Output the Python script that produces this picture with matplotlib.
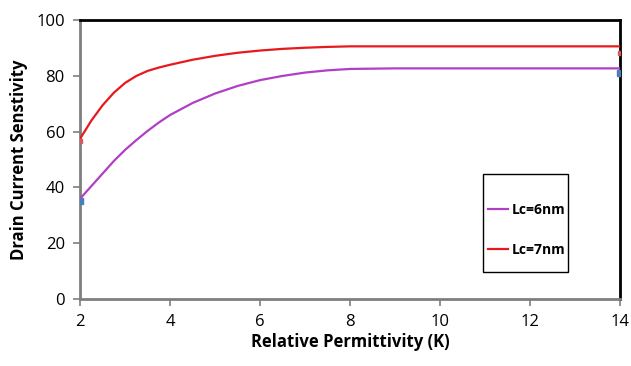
import matplotlib.pyplot as plt
from matplotlib.patches import Rectangle

k = [2, 2.25, 2.5, 2.75, 3, 3.25, 3.5, 3.75, 4, 4.5, 5, 5.5, 6, 6.5, 7, 7.5, 8,
     9, 10, 11, 12, 13, 14]
lc6 = [36, 40.5, 45, 49.5, 53.5, 57, 60.3, 63.3, 66, 70.3, 73.7, 76.4, 78.5, 80,
       81.2, 82, 82.5, 82.7, 82.7, 82.7, 82.7, 82.7, 82.7]
lc7 = [57.5, 64, 69.5, 74, 77.5, 80, 81.8, 83, 84, 85.8, 87.2, 88.3, 89.1, 89.7,
       90.1, 90.4, 90.6, 90.6, 90.6, 90.6, 90.6, 90.6, 90.6]

plt.rcParams['font.family'] = ['Open Sans', 'DejaVu Sans']

fig = plt.figure(figsize=(6.31, 3.66), dpi=100)
ax = fig.add_axes([0.127, 0.183, 0.856, 0.762])

ax.plot(k, lc6, color='#b03fc6', lw=1.6, label='Lc=6nm', zorder=3)
ax.plot(k, lc7, color='#e8191c', lw=1.6, label='Lc=7nm', zorder=3)
# endpoint markers
ax.plot([k[0], k[-1]], [lc6[0] - 1, lc6[-1] - 1.5], 's', color='#4a7ebb', ms=4, zorder=4)
ax.plot([k[0], k[-1]], [lc7[0] - 1, lc7[-1] - 2.5], 's', color='#d9595a', ms=3, zorder=4)

ax.set_xlim(2, 14)
ax.set_ylim(0, 100)
ax.set_xticks(range(2, 15, 2))
ax.set_yticks(range(0, 101, 20))

for s in ['left', 'bottom']:
    ax.spines[s].set_color('#7f7f7f')
    ax.spines[s].set_linewidth(2)
for s in ['top', 'right']:
    ax.spines[s].set_color('black')
    ax.spines[s].set_linewidth(2)

ax.tick_params(direction='out', length=5, width=1.2, color='#7f7f7f',
               labelsize=12, pad=6)

ax.set_xlabel('Relative Permittivity (K)', fontsize=12, fontweight='bold', labelpad=2)
ax.set_ylabel('Drain Current Senstivity', fontsize=12, fontweight='bold', labelpad=6)

# legend box drawn separately
ax.add_patch(Rectangle((0.746, 0.097), 0.157, 0.351, transform=ax.transAxes,
                       fill=False, edgecolor='black', lw=1, zorder=5))
leg = ax.legend(loc='center left', bbox_to_anchor=(0.755, 0.247), frameon=False,
                fontsize=10, handlelength=1.45, handletextpad=0.3,
                labelspacing=1.85, borderpad=0, borderaxespad=0)
for t in leg.get_texts():
    t.set_fontweight('bold')

fig.savefig('out.png', dpi=100)
